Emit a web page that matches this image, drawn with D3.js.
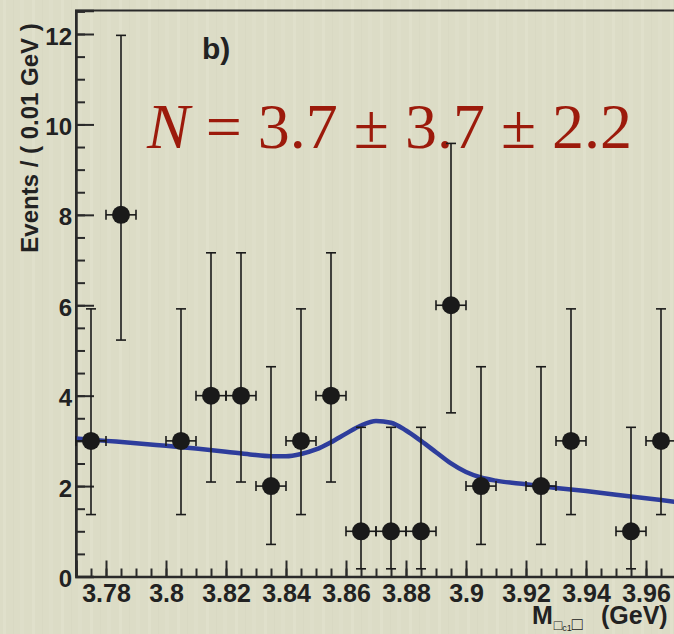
<!DOCTYPE html>
<html>
<head>
<meta charset="utf-8">
<script src="https://cdn.jsdelivr.net/npm/d3@7"></script>
<style>
  html, body { margin: 0; padding: 0; background: #dcdcc6; }
  svg { display: block; }
  text { font-family: "Liberation Sans", Arial, sans-serif; }
</style>
</head>
<body>
<svg></svg>
<script>
const width = 674;
const height = 634;

// data: bin centres, counts, asymmetric poisson error limits
const binCenters = [3.775, 3.785, 3.805, 3.815, 3.825, 3.835, 3.845, 3.855, 3.865, 3.875, 3.885, 3.895, 3.905, 3.925, 3.935, 3.955, 3.965];
const counts = [3, 8, 3, 4, 4, 2, 3, 4, 1, 1, 1, 6, 2, 2, 3, 1, 3];
const errLow = [1.37, 5.23, 1.37, 2.09, 2.09, 0.71, 1.37, 2.09, 0.17, 0.17, 0.17, 3.62, 0.71, 0.71, 1.37, 0.17, 1.37];
const errHigh = [5.92, 11.97, 5.92, 7.16, 7.16, 4.64, 5.92, 7.16, 3.30, 3.30, 3.30, 9.58, 4.64, 4.64, 5.92, 3.30, 5.92];

// fitted curve
const fitX = [3.770, 3.780, 3.790, 3.800, 3.810, 3.820, 3.828, 3.835, 3.840, 3.845, 3.850, 3.855, 3.860, 3.865, 3.870, 3.875, 3.880, 3.885, 3.890, 3.895, 3.900, 3.905, 3.910, 3.920, 3.930, 3.940, 3.950, 3.960, 3.970];
const fitY = [3.05, 3.00, 2.95, 2.89, 2.83, 2.76, 2.70, 2.66, 2.66, 2.71, 2.81, 2.97, 3.16, 3.34, 3.44, 3.40, 3.23, 3.00, 2.75, 2.50, 2.31, 2.19, 2.12, 2.04, 1.96, 1.89, 1.81, 1.73, 1.65];

const xTicks = [3.78, 3.80, 3.82, 3.84, 3.86, 3.88, 3.90, 3.92, 3.94, 3.96];
const xTickLabels = ["3.78", "3.8", "3.82", "3.84", "3.86", "3.88", "3.9", "3.92", "3.94", "3.96"];
const yTicks = [0, 2, 4, 6, 8, 10, 12];

const svg = d3.select("svg").attr("width", width).attr("height", height);

const padLeft = 76, padBottom = 576.5, padTop = 10.5;
const xScale = d3.scaleLinear().domain([3.77, 3.97]).range([padLeft, padLeft + 600]);
const yScale = d3.scaleLinear().domain([0, 12.52]).range([padBottom, padTop]);

// background texture
const defs = svg.append("defs");
const pat = defs.append("pattern").attr("id", "tex").attr("patternUnits", "userSpaceOnUse")
  .attr("width", 29).attr("height", 634);
pat.append("rect").attr("width", 29).attr("height", 634).attr("fill", "#dcdcc6");
pat.append("rect").attr("x", 3).attr("width", 3).attr("height", 634).attr("fill", "#e2e2cf").attr("opacity", 0.6);
pat.append("rect").attr("x", 13).attr("width", 1).attr("height", 634).attr("fill", "#d5d5bf").attr("opacity", 0.5);
pat.append("rect").attr("x", 20).attr("width", 4).attr("height", 634).attr("fill", "#e0e0cc").attr("opacity", 0.5);
svg.append("rect").attr("width", width).attr("height", height).attr("fill", "url(#tex)");

// frame
svg.append("path")
  .attr("d", `M${padLeft},${padBottom}V${padTop}H${width + 10}`)
  .attr("fill", "none").attr("stroke", "#2a2a2a").attr("stroke-width", 2);

// minor ticks
const yMinor = d3.range(0, 12.6, 0.5);
svg.append("g").attr("transform", `translate(${padLeft},0)`)
  .call(d3.axisLeft(yScale).tickValues(yMinor).tickSize(-9).tickFormat(""))
  .call(g => g.select(".domain").remove())
  .selectAll("line").attr("stroke", "#2a2a2a").attr("stroke-width", 2);

const xMinor = d3.range(3.77, 3.9701, 0.005);
svg.append("g").attr("transform", `translate(0,${padBottom})`)
  .call(d3.axisBottom(xScale).tickValues(xMinor).tickSize(-8).tickFormat(""))
  .call(g => g.select(".domain").remove())
  .selectAll("line").attr("stroke", "#2a2a2a").attr("stroke-width", 2);

// major axes
const yAxis = svg.append("g").attr("transform", `translate(${padLeft},0)`)
  .call(d3.axisLeft(yScale).tickValues(yTicks).tickSize(-18).tickPadding(4).tickFormat(d3.format("d")));
yAxis.select(".domain").attr("stroke", "#2a2a2a").attr("stroke-width", 2.5);
yAxis.selectAll("line").attr("stroke", "#2a2a2a").attr("stroke-width", 2);
yAxis.selectAll("text").attr("font-size", 24).attr("font-weight", "bold").attr("fill", "#222").attr("dy", "0.42em");

const xAxis = svg.append("g").attr("transform", `translate(0,${padBottom})`)
  .call(d3.axisBottom(xScale).tickValues(xTicks).tickSize(-16).tickPadding(8)
    .tickFormat((d, i) => xTickLabels[i]));
xAxis.select(".domain").attr("stroke", "#2a2a2a").attr("stroke-width", 2.5);
xAxis.selectAll("line").attr("stroke", "#2a2a2a").attr("stroke-width", 2);
xAxis.selectAll("text").attr("font-size", 25).attr("font-weight", "bold").attr("fill", "#222");

// axis titles
svg.append("text")
  .attr("transform", "translate(38,138) rotate(-90)")
  .attr("text-anchor", "middle").attr("font-size", 24).attr("font-weight", "bold").attr("fill", "#222")
  .text("Events / ( 0.01 GeV )");

const xt = svg.append("text").attr("x", 532).attr("y", 624).attr("font-size", 25).attr("font-weight", "bold").attr("fill", "#222");
xt.append("tspan").text("M");
xt.append("tspan").attr("font-size", 14).attr("font-weight", "normal").attr("dy", 6).attr("dx", 1).text("\u25A1");
xt.append("tspan").attr("font-size", 9).attr("font-weight", "normal").attr("dy", 1).text("c1");
xt.append("tspan").attr("font-size", 18).attr("font-weight", "normal").attr("dy", -1).text("\u25A1");
xt.append("tspan").attr("x", 601).attr("y", 624).text("(GeV)");

// labels
svg.append("text").attr("x", 202).attr("y", 59).attr("font-size", 30).attr("font-weight", "bold").attr("fill", "#222").text("b)");

const nt = svg.append("text").attr("x", 147).attr("y", 148)
  .style("font-family", "'Liberation Serif', 'Times New Roman', serif").attr("font-size", 64).attr("fill", "#9c1a0b");
nt.append("tspan").attr("font-style", "italic").text("N");
nt.append("tspan").text(" = 3.7 \u00B1 3.7 \u00B1 2.2");

// fit curve
const fitData = fitX.map((x, i) => [x, fitY[i]]);
svg.append("path").datum(fitData)
  .attr("d", d3.line().x(d => xScale(d[0])).y(d => yScale(d[1])).curve(d3.curveMonotoneX))
  .attr("fill", "none").attr("stroke", "#2e3d9c").attr("stroke-width", 4.5);

// data points
const pts = binCenters.map((x, i) => ({ x, y: counts[i], lo: errLow[i], hi: errHigh[i] }));
const g = svg.append("g").attr("stroke", "#1a1a1a").attr("stroke-width", 1.6);
const cap = 5;
pts.forEach(p => {
  const cx = xScale(p.x), cy = yScale(p.y);
  const x0 = xScale(p.x - 0.005), x1 = xScale(p.x + 0.005);
  const yl = yScale(p.lo), yh = yScale(p.hi);
  g.append("line").attr("x1", cx).attr("x2", cx).attr("y1", yl).attr("y2", yh);
  g.append("line").attr("x1", cx - cap).attr("x2", cx + cap).attr("y1", yl).attr("y2", yl);
  g.append("line").attr("x1", cx - cap).attr("x2", cx + cap).attr("y1", yh).attr("y2", yh);
  g.append("line").attr("x1", x0).attr("x2", x1).attr("y1", cy).attr("y2", cy);
  g.append("line").attr("x1", x0).attr("x2", x0).attr("y1", cy - cap).attr("y2", cy + cap);
  g.append("line").attr("x1", x1).attr("x2", x1).attr("y1", cy - cap).attr("y2", cy + cap);
});
svg.append("g").selectAll("circle").data(pts).join("circle")
  .attr("cx", d => xScale(d.x)).attr("cy", d => yScale(d.y)).attr("r", 9).attr("fill", "#1a1a1a");
</script>
</body>
</html>
